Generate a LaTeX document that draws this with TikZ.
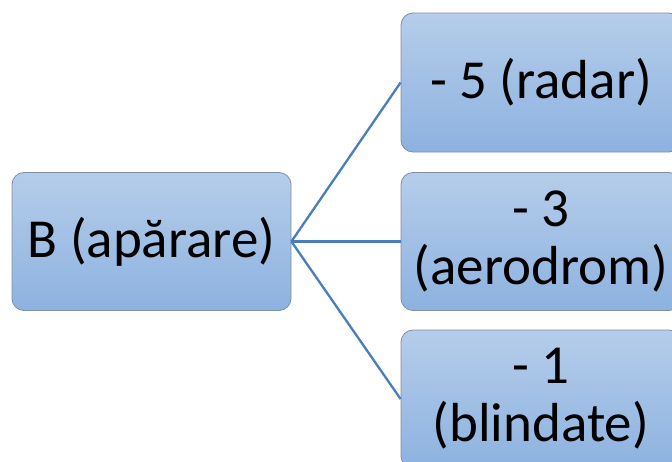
\documentclass[tikz,border=0pt]{standalone}
\usepackage{fontspec}
\setmainfont{Carlito}
\definecolor{boxtop}{HTML}{B5CDEA}
\definecolor{boxbot}{HTML}{8DB2E0}
\definecolor{boxline}{HTML}{7F8FA3}
\definecolor{conn}{HTML}{4A7EBB}
\tikzset{
  box/.style={rectangle, rounded corners=12pt, draw=boxline, line width=0.8pt,
    top color=boxtop, bottom color=boxbot, inner sep=0pt, align=center,
    font=\fontsize{55}{58}\selectfont},
  link/.style={draw=conn, line width=2.3pt}
}
\begin{document}
\begin{tikzpicture}[x=1pt,y=-1pt]
\useasboundingbox (0,0) rectangle (672,461);
\clip (0,0) rectangle (672,461);
\node[box, minimum width=279pt, minimum height=138pt] (b) at (151.5,241.5) {B (apărare)};
\node[box, minimum width=280pt, minimum height=139pt] (r1) at (541,82.5) {- 5 (radar)};
\node[box, minimum width=280pt, minimum height=138pt] (r2) at (541,241.5) {- 3\\(aerodrom)};
\node[box, minimum width=280pt, minimum height=138pt] (r3) at (541,399) {- 1\\(blindate)};
\draw[link] (b.east) -- (r1.west);
\draw[link] (b.east) -- (r2.west);
\draw[link] (b.east) -- (r3.west);
\end{tikzpicture}
\end{document}
